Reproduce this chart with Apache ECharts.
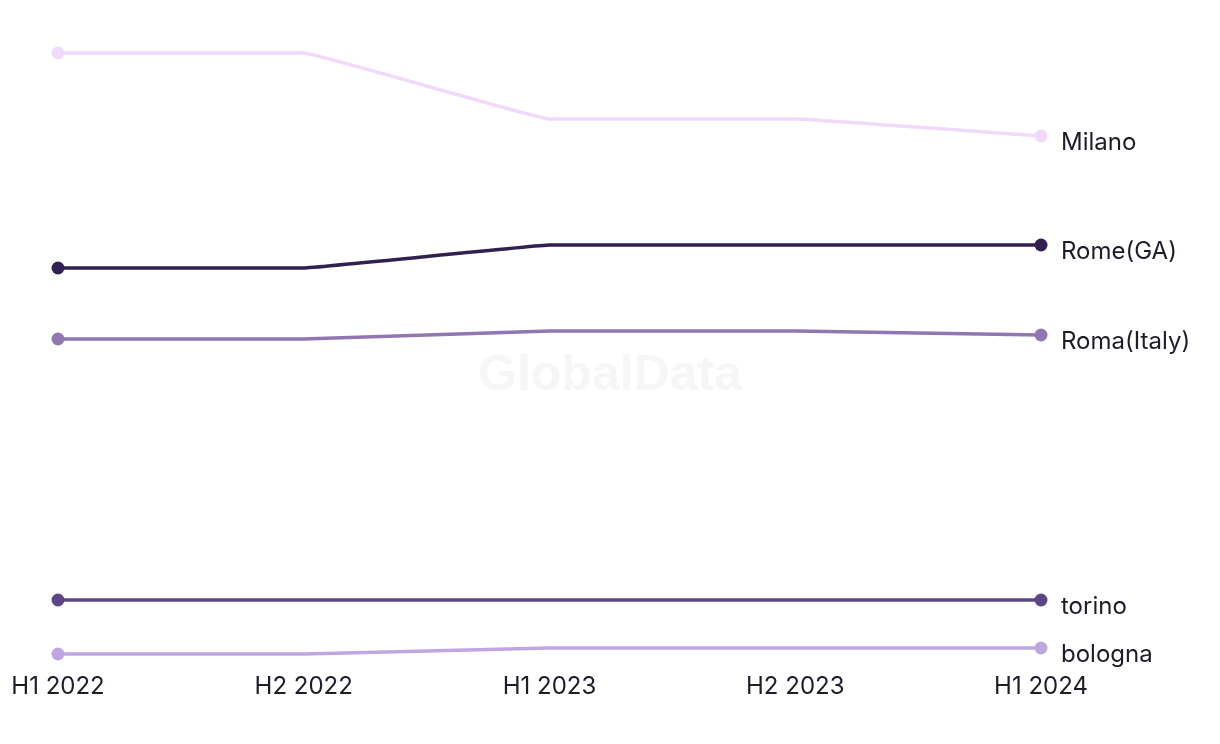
<!DOCTYPE html>
<html>
<head>
<meta charset="utf-8">
<script src="https://cdn.jsdelivr.net/npm/echarts@6/dist/echarts.min.js"></script>
<style>
html,body{margin:0;padding:0;background:#fff;}
#chart{width:1220px;height:744px;}
</style>
</head>
<body>
<div id="chart"></div>
<script>
const categories = ["H1 2022", "H2 2022", "H1 2023", "H2 2023", "H1 2024"];
const milano = [12.34, 12.34, 11.02, 11.02, 10.68];
const romeGA = [8.04, 8.04, 8.5, 8.5, 8.5];
const romaItaly = [6.62, 6.62, 6.78, 6.78, 6.7];
const torino = [1.4, 1.4, 1.4, 1.4, 1.4];
const bologna = [0.32, 0.32, 0.44, 0.44, 0.44];

const seriesDefs = [
  { name: "Milano", data: milano, color: "#f1d9fb" },
  { name: "Rome(GA)", data: romeGA, color: "#33204f" },
  { name: "Roma(Italy)", data: romaItaly, color: "#9276b1" },
  { name: "torino", data: torino, color: "#5e4683" },
  { name: "bologna", data: bologna, color: "#c0a6e1" }
];

const FONT = "Inter, 'Noto Sans', sans-serif";
const chart = echarts.init(document.getElementById('chart'));
chart.setOption({
  animation: false,
  backgroundColor: '#ffffff',
  graphic: [{
    type: 'text', left: 'center', top: 351, z: 0,
    style: { text: 'GlobalData', fontSize: 50, fontWeight: 'bold', fontFamily: "Arial, 'Liberation Sans', sans-serif", fill: '#f6f6f6' }
  }],
  grid: { left: 58, right: 179, top: 20, bottom: 74 },
  xAxis: {
    type: 'category', data: categories, boundaryGap: false,
    axisLine: { show: false }, axisTick: { show: false }, splitLine: { show: false },
    axisLabel: { color: '#1c1c2b', fontSize: 24, fontFamily: FONT, margin: 5 }
  },
  yAxis: {
    type: 'value', min: 0, max: 13, show: false, splitLine: { show: false }
  },
  series: seriesDefs.map(s => ({
    name: s.name, type: 'line', data: s.data, smooth: 0.05,
    symbol: 'circle',
    symbolSize: (v, p) => (p.dataIndex === 0 || p.dataIndex === s.data.length - 1) ? 13 : 0,
    showAllSymbol: true,
    lineStyle: { color: s.color, width: 3.5 },
    itemStyle: { color: s.color },
    emphasis: { disabled: true },
    endLabel: {
      show: true, formatter: s.name, color: '#1c1c2b', fontSize: 24, fontFamily: FONT,
      distance: 20, offset: [0, 7]
    }
  }))
});
</script>
</body>
</html>
